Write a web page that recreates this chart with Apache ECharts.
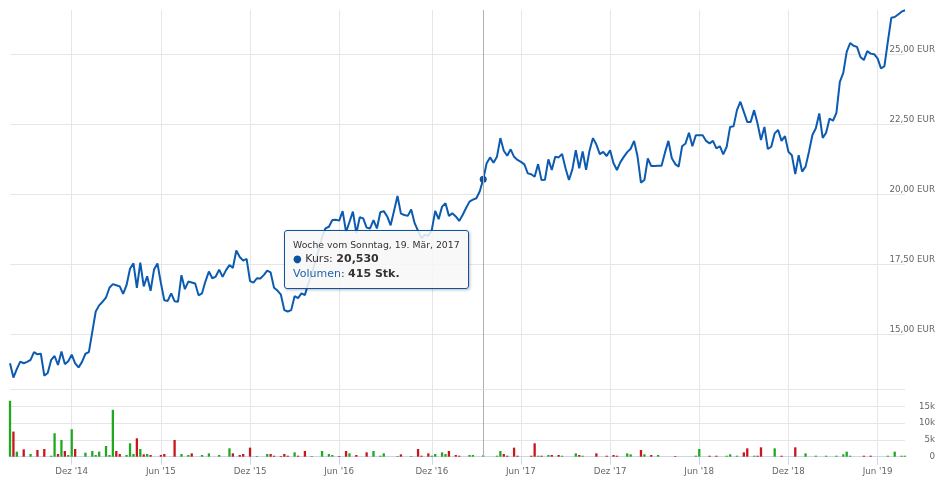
<!DOCTYPE html>
<html><head><meta charset="utf-8">
<script src="https://cdn.jsdelivr.net/npm/echarts@6/dist/echarts.min.js"></script>
<style>html,body{margin:0;padding:0;background:#fff}#c{width:945px;height:485px}</style>
</head><body><div id="c"></div>
<script>
// ---- data ----
const firstWeek = '2014-07-27';           // weekly points (Sundays)
const kurs = [
13.95,13.44,13.75,14.01,13.95,14.0,14.07,14.35,14.27,14.29,
13.51,13.6,14.07,14.21,13.89,14.37,13.92,14.02,14.26,13.95,
13.8,14.0,14.29,14.35,15.07,15.8,16.02,16.15,16.3,16.65,
16.78,16.74,16.7,16.43,16.75,17.33,17.52,16.65,17.55,16.7,
17.06,16.54,17.3,17.52,16.82,16.2,16.18,16.45,16.17,16.15,
17.1,16.6,16.87,16.84,16.8,16.38,16.45,16.88,17.23,16.99,
17.05,17.3,17.04,17.28,17.46,17.36,17.98,17.75,17.62,17.68,
16.89,16.83,16.99,16.98,17.1,17.26,17.2,16.65,16.55,16.4,
15.85,15.8,15.85,16.35,16.28,16.45,16.39,16.8,17.15,17.55,
18.0,18.45,18.77,18.83,19.07,19.08,19.05,19.39,18.65,19.0,
19.37,18.6,19.17,19.13,18.8,18.77,19.07,18.77,19.35,19.39,
19.2,18.88,19.4,19.93,19.3,19.25,19.22,19.45,18.96,18.68,
18.42,18.55,18.5,18.71,19.4,19.1,19.55,19.67,19.22,19.31,
19.2,19.04,19.25,19.5,19.73,19.8,19.85,20.1,20.53,21.1,
21.31,21.12,21.33,22.0,21.55,21.37,21.6,21.33,21.22,21.15,
21.06,20.74,20.71,20.62,21.07,20.5,20.51,21.24,20.86,21.33,
21.31,21.43,20.92,20.5,20.88,21.57,20.92,21.52,20.87,21.55,
22.0,21.77,21.43,21.51,21.36,21.57,21.1,20.86,21.14,21.33,
21.5,21.62,21.9,21.35,20.41,20.5,21.27,21.0,21.0,21.01,
21.01,21.48,21.9,21.28,21.07,20.98,21.71,21.81,22.19,21.71,
22.1,22.1,22.1,21.9,21.81,21.9,21.63,21.71,21.42,21.69,
22.4,22.42,23.0,23.3,22.94,22.58,22.58,23.0,22.52,21.93,
22.4,21.61,21.69,22.17,22.29,21.9,22.07,21.51,21.39,20.71,
21.39,20.8,20.98,21.51,22.11,22.35,22.88,22.01,22.19,22.7,
22.62,22.9,24.01,24.33,25.08,25.4,25.3,25.26,24.9,24.79,
25.11,25.02,25.0,24.85,24.49,24.57,25.45,26.3,26.33,26.42,
26.52,26.57];
const volumen = [
16700,7500,1500,0,2200,0,800,0,2000,0,
2300,0,300,7000,800,5000,1700,500,8200,2300,
0,0,1200,0,1700,500,1500,0,3200,500,
14000,1700,800,0,500,4000,800,5500,2300,700,
800,500,0,0,500,800,0,0,5000,0,
800,0,500,1000,0,0,500,0,1000,0,
0,500,0,0,2500,1000,0,500,800,0,
2700,0,200,0,0,800,800,300,0,200,
800,300,0,1300,300,0,1700,0,200,0,
0,1700,0,800,500,0,200,0,1700,1000,
0,500,0,0,1300,0,1700,0,300,1000,
0,0,0,200,700,0,0,200,0,2300,
300,0,1000,300,800,0,1300,800,1700,0,
500,300,0,0,500,500,0,0,415,0,
0,0,300,1700,800,300,0,2700,300,0,
0,0,300,4000,300,300,0,500,500,0,
500,300,0,0,0,1000,500,300,0,0,
0,1000,0,0,300,0,500,300,0,0,
1000,700,0,0,2000,700,0,500,0,500,
0,0,0,0,200,0,0,0,0,0,
300,2300,0,0,300,0,300,0,0,300,
700,0,300,0,1300,2500,0,300,300,2800,
0,0,0,2500,0,300,0,0,0,2800,
0,0,1000,0,0,300,0,0,300,0,
0,300,0,700,1500,300,0,0,0,300,
0,300,0,0,0,0,300,0,1500,0,
300,300];
const tickDates  = ['2014-12-01','2015-06-01','2015-12-01','2016-06-01','2016-12-01','2017-06-01','2017-12-01','2018-06-01','2018-12-01','2019-06-01'];
const tickLabels = ["Dez '14","Jun '15","Dez '15","Jun '16","Dez '16","Jun '17","Dez '17","Jun '18","Dez '18","Jun '19"];
const priceTicks = [15, 17.5, 20, 22.5, 25];
const tooltipWeek = '2017-03-19';
const monthNames = ['Jan','Feb','Mär','Apr','Mai','Jun','Jul','Aug','Sep','Okt','Nov','Dez'];

// ---- derived ----
const DAY = 86400000;
function parse(s){const p=s.split('-').map(Number);return Date.UTC(p[0],p[1]-1,p[2]);}
const t0 = parse(firstWeek);
const weeks = kurs.map((_, i) => t0 + i*7*DAY);
const categories = weeks.map(t => new Date(t).toISOString().slice(0,10));
const tickIdx = {};
tickDates.forEach((d,k)=>{const t=parse(d);let best=0,bd=Infinity;weeks.forEach((w,i)=>{const dd=Math.abs(w-t);if(dd<bd){bd=dd;best=i;}});tickIdx[best]=tickLabels[k];});
const isTick = (i) => Object.prototype.hasOwnProperty.call(tickIdx, i);
const tipIdx = categories.indexOf(tooltipWeek);

const LINE = '#0b53a1', UP = '#20a820', DOWN = '#c8161d', GRID = '#e6e6e6', LBL = '#666666';
const FONT = 'DejaVu Sans';
const volData = volumen.map((v,i)=>({value:v,itemStyle:{color:(i===0||kurs[i]>=kurs[i-1])?UP:DOWN}}));

const chart = echarts.init(document.getElementById('c'), null, {renderer:'canvas'});
chart.setOption({
  animation:false,
  backgroundColor:'#ffffff',
  grid:[
    {left:10, right:40, top:10, height:379},
    {left:10, right:40, top:389.7, height:67}
  ],
  axisPointer:{link:[{xAxisIndex:'all'}]},
  tooltip:{
    trigger:'axis', triggerOn:'none', alwaysShowContent:true,
    position:[284,230],
    backgroundColor:'rgba(247,247,247,0.88)', borderColor:LINE, borderWidth:1, borderRadius:3,
    padding:[7,8,7,8],
    extraCssText:'box-shadow:1px 1px 3px rgba(0,0,0,0.28);',
    textStyle:{fontFamily:FONT,color:'#333333'},
    axisPointer:{type:'line', animation:false, lineStyle:{color:'#b0b0b0',width:1,type:'solid'}, label:{show:false}},
    formatter:function(params){
      const i = params[0].dataIndex;
      const d = new Date(weeks[i]);
      const head = 'Woche vom Sonntag, '+d.getUTCDate()+'. '+monthNames[d.getUTCMonth()]+', '+d.getUTCFullYear();
      return '<div style="font-size:9.3px;line-height:14px;color:#333">'+head+'</div>'+
        '<div style="font-size:11px;line-height:14.5px;color:#333"><span style="color:'+LINE+';font-size:10px">\u25CF</span> Kurs: <b>'+kurs[i].toFixed(3).replace('.',',')+'</b></div>'+
        '<div style="font-size:11px;line-height:14.5px;color:#333"><span style="color:#1f64b0">Volumen</span>: <b>'+volumen[i]+' Stk.</b></div>';
    }
  },
  xAxis:[
    {gridIndex:0, type:'category', data:categories, boundaryGap:false,
     axisLine:{show:false}, axisTick:{show:false}, axisLabel:{show:false},
     splitLine:{show:true, interval:(i)=>isTick(i), lineStyle:{color:GRID,width:1}}},
    {gridIndex:1, type:'category', data:categories, boundaryGap:false,
     axisLine:{show:true, lineStyle:{color:'#ccd6eb',width:1}},
     axisTick:{show:true, length:8, interval:(i)=>isTick(i), lineStyle:{color:'#ccd6eb'}},
     axisLabel:{interval:(i)=>isTick(i), formatter:(v,i)=>tickIdx[i]||'', color:LBL, fontFamily:FONT, fontSize:8.7, margin:11},
     splitLine:{show:true, interval:(i)=>isTick(i), lineStyle:{color:GRID,width:1}}}
  ],
  yAxis:[
    {gridIndex:0, type:'value', position:'right', min:13.03, max:26.58, scale:true,
     axisLine:{show:false}, axisTick:{show:false, customValues:priceTicks},
     axisLabel:{customValues:priceTicks, formatter:(v)=>v.toFixed(2).replace('.',',')+' EUR', align:'right', verticalAlign:'bottom', margin:30, color:LBL, fontFamily:FONT, fontSize:8.7},
     splitLine:{show:true, lineStyle:{color:GRID,width:1}}},
    {gridIndex:1, type:'value', position:'right', min:0, max:20000, interval:5000,
     axisLine:{show:false}, axisTick:{show:false},
     axisLabel:{showMaxLabel:false, formatter:(v)=>v===0?'0':(v/1000)+'k', align:'right', verticalAlign:'middle', padding:[0,0,3,0], margin:30, color:LBL, fontFamily:FONT, fontSize:8.7},
     splitLine:{show:true, lineStyle:{color:GRID,width:1}}}
  ],
  series:[
    {name:'Kurs', type:'line', xAxisIndex:0, yAxisIndex:0, data:kurs,
     showSymbol:false, symbol:'circle', symbolSize:7,
     lineStyle:{color:LINE,width:2}, itemStyle:{color:LINE},
     emphasis:{scale:false, lineStyle:{width:2}}},
    {name:'Volumen', type:'bar', xAxisIndex:1, yAxisIndex:1, data:volData,
     barWidth:2.3, clip:false, emphasis:{disabled:true}}
  ]
});
chart.dispatchAction({type:'showTip', seriesIndex:0, dataIndex:tipIdx});
</script></body></html>
